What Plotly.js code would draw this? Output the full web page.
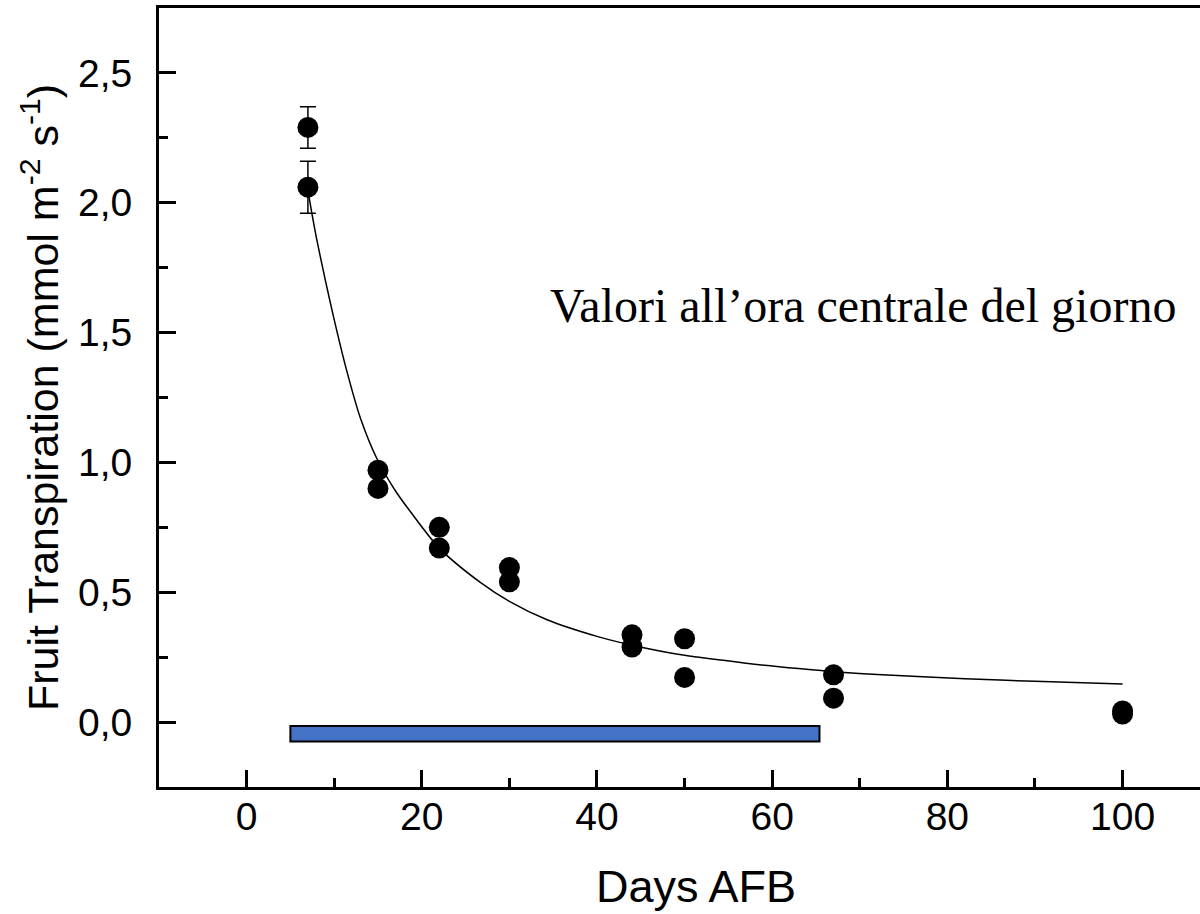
<!DOCTYPE html>
<html>
<head>
<meta charset="utf-8">
<script src="https://cdn.plot.ly/plotly-3.0.1.min.js"></script>
<style>
html, body { margin: 0; padding: 0; background: #ffffff; overflow: hidden; }
#chart { width: 1200px; height: 914px; }
</style>
</head>
<body>
<div id="chart"></div>
<script>
// Measured points (Days AFB, transpiration)
const days7 = [7, 7];
const trans7 = [2.29, 2.06];
const err7 = [0.08, 0.10];

const daysPts = [15, 15, 22, 22, 30, 30, 44, 44, 50, 50, 67, 67, 100, 100];
const transPts = [0.97, 0.90, 0.75, 0.67, 0.595, 0.54, 0.336, 0.289, 0.321, 0.172, 0.182, 0.092, 0.043, 0.031];

// Fitted curve
const fitDays = [7, 7.5, 8, 9, 10, 11.3, 13, 14.8, 17, 18.8, 22, 26.6, 30, 34.3, 40, 44, 50, 57, 63, 67, 72, 82, 90, 100];
const fitTrans = [2.05, 1.95, 1.86, 1.70, 1.55, 1.37, 1.17, 1.02, 0.89, 0.806, 0.67, 0.54, 0.465, 0.394, 0.33, 0.296, 0.257, 0.227, 0.206, 0.194, 0.183, 0.167, 0.157, 0.147];

// Blue period bar
const barStart = 5;
const barEnd = 65.4;
const barLevel = -0.045;
const barThickness = 0.06;

const xTicks = [0, 20, 40, 60, 80, 100];
const xTickText = ['0', '20', '40', '60', '80', '100'];
const yTicks = [0, 0.5, 1.0, 1.5, 2.0, 2.5];
const yTickText = ['0,0', '0,5', '1,0', '1,5', '2,0', '2,5'];

const noteText = 'Valori all\u2019ora centrale del giorno';
const xTitle = 'Days AFB';
const yTitle = 'Fruit Transpiration (mmol m<sup>-2</sup> s<sup>-1</sup>)';

const traces = [
  {
    type: 'bar', orientation: 'h',
    y: [barLevel], x: [barEnd - barStart], base: [barStart],
    width: [barThickness],
    marker: { color: '#4472C4', line: { color: '#000000', width: 2 } },
    hoverinfo: 'skip', showlegend: false
  },
  {
    type: 'scatter', mode: 'lines',
    x: fitDays, y: fitTrans,
    line: { color: '#000000', width: 1.5, shape: 'spline', smoothing: 0.8 },
    hoverinfo: 'skip', showlegend: false
  },
  {
    type: 'scatter', mode: 'markers',
    x: days7, y: trans7,
    error_y: { type: 'data', array: err7, visible: true, color: '#000000', thickness: 1.5, width: 8 },
    marker: { color: '#000000', size: 21 },
    showlegend: false
  },
  {
    type: 'scatter', mode: 'markers',
    x: daysPts, y: transPts,
    marker: { color: '#000000', size: 21 },
    showlegend: false
  }
];

const layout = {
  width: 1200, height: 914,
  margin: { l: 159, r: 0, t: 8, b: 127, pad: 0 },
  paper_bgcolor: '#ffffff', plot_bgcolor: '#ffffff',
  showlegend: false,
  bargap: 0,
  font: { family: 'Liberation Sans, Arial, sans-serif', color: '#000000' },
  xaxis: {
    range: [-10, 108.84],
    tickmode: 'array', tickvals: xTicks, ticktext: xTickText,
    ticks: 'inside', ticklen: 17, tickwidth: 3, tickcolor: '#000000',
    minor: { ticks: 'inside', ticklen: 9, tickwidth: 3, tickcolor: '#000000', tickvals: [10, 30, 50, 70, 90] },
    showline: true, linewidth: 3, linecolor: '#000000', mirror: true,
    showgrid: false, zeroline: false,
    tickfont: { size: 39, family: 'Liberation Sans, Arial, sans-serif' },
    ticklabelstandoff: -7
  },
  yaxis: {
    range: [-0.25, 2.75],
    tickmode: 'array', tickvals: yTicks, ticktext: yTickText,
    ticks: 'inside', ticklen: 17, tickwidth: 3, tickcolor: '#000000',
    minor: { ticks: 'inside', ticklen: 9, tickwidth: 3, tickcolor: '#000000', tickvals: [0.25, 0.75, 1.25, 1.75, 2.25] },
    showline: true, linewidth: 3, linecolor: '#000000', mirror: false,
    showgrid: false, zeroline: false,
    tickfont: { size: 39, family: 'Liberation Sans, Arial, sans-serif' },
    ticklabelstandoff: 16,
    title: { text: yTitle, font: { size: 43, family: 'Liberation Sans, Arial, sans-serif' }, standoff: 6 }
  },
  annotations: [
    {
      x: 34.4, y: 1.606, xref: 'x', yref: 'y',
      xanchor: 'left', yanchor: 'middle',
      text: noteText, showarrow: false,
      font: { family: 'Liberation Serif, Times New Roman, serif', size: 48, color: '#000000' }
    },
    {
      x: 0.516, y: -0.128, xref: 'paper', yref: 'paper',
      xanchor: 'center', yanchor: 'middle',
      text: xTitle, showarrow: false,
      font: { family: 'Liberation Sans, Arial, sans-serif', size: 45, color: '#000000' }
    }
  ]
};

Plotly.newPlot('chart', traces, layout, { staticPlot: true, displayModeBar: false });
</script>
</body>
</html>
